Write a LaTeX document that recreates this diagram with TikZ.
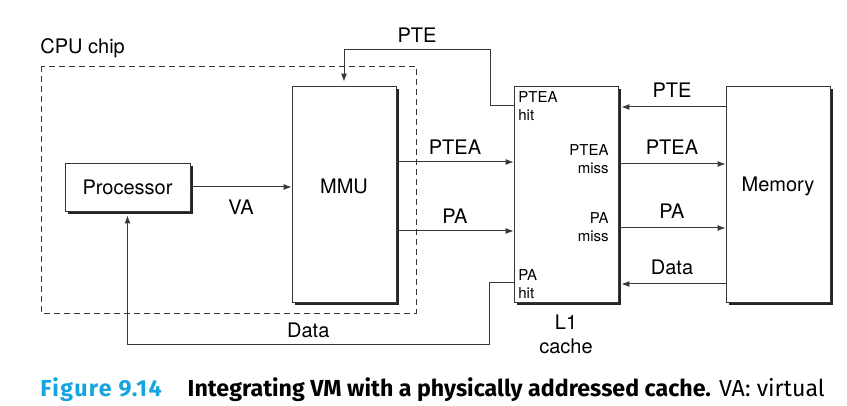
\documentclass[tikz,border=0pt]{standalone}
\usepackage{fontspec}
\setmainfont{TeX Gyre Heros}
\newfontfamily\capfont{Fira Sans}
\usetikzlibrary{arrows.meta,shadows}
\definecolor{figblue}{RGB}{20,165,225}
\definecolor{linegray}{RGB}{55,55,55}
\tikzset{
  box/.style={draw=linegray, line width=0.4pt, fill=white, inner sep=0pt,
    minimum width=52pt, minimum height=108pt,
    drop shadow={shadow xshift=1.5pt, shadow yshift=-1.5pt, fill=black!85, opacity=1}},
  arr/.style={draw=linegray, line width=0.5pt, -{Latex[length=4pt,width=3pt]}},
  small/.style={font=\fontsize{7.5}{9}\selectfont, inner sep=0pt},
}
\begin{document}
\begin{tikzpicture}[x=0.5pt,y=-0.5pt]
  \useasboundingbox (0,0) rectangle (847,406);
  % CPU chip
  \draw[linegray, line width=0.4pt, dash pattern=on 3pt off 2pt] (41,66) rectangle (416,313);
  \node[anchor=west, inner sep=0pt] (cpulbl) at (40,48) {CPU chip};
  \node[box, minimum width=62.5pt, minimum height=24pt] (proc) at (127.5,187) {Processor};
  \node[box] (mmu) at (344,194) {};
  \node (mmulbl) at (344,186) {MMU};
  % cache and memory
  \node[box] (l1) at (566,194) {};
  \node[box] (mem) at (778,194) {};
  \node (memlbl) at (778,186) {Memory};
  \node[align=center, inner sep=0pt] (l1lbl) at (566,334) {L1\\cache};
  \node[small, anchor=west, align=left] (pteahit) at (518,106) {PTEA\\hit};
  \node[small, anchor=east, align=right] (pteamiss) at (609,159) {PTEA\\miss};
  \node[small, anchor=east, align=right] (pamiss) at (609,227) {PA\\miss};
  \node[small, anchor=west, align=left] (pahit) at (518,284) {PA\\hit};
  % connectors
  \draw[arr] (proc.east) -- node[below=3pt] (valbl) {VA} (proc.east -| mmu.west);
  \draw[arr] (mmu.east |- 0,162) -- node[above] (ptealbl) {PTEA} (l1.west |- 0,162);
  \draw[arr] (mmu.east |- 0,231) -- node[above] (palbl) {PA} (l1.west |- 0,231);
  \draw[arr, shorten >=2pt] (l1.west |- 0,106) -- (490,106) -- (490,50)
    -- node[above] (ptelbl) {PTE} (mmu.north |- 0,50) -- (mmu.north);
  \draw[arr, shorten >=2pt] (l1.west |- 0,283) -- (489,283) -- (489,345)
    -- node[above] (datalbl) {Data} (proc.south |- 0,345) -- (proc.south);
  \draw[arr, shorten >=1.5pt] (mem.west |- 0,107) -- node[above=1pt] (mptelbl) {PTE} (l1.east |- 0,107);
  \draw[arr] (l1.east |- 0,164) -- node[above=1pt] (mptealbl) {PTEA} (mem.west |- 0,164);
  \draw[arr] (l1.east |- 0,228) -- node[above=1pt] (mpalbl) {PA} (mem.west |- 0,228);
  \draw[arr, shorten >=1.5pt] (mem.west |- 0,284) -- node[above=1pt] (mdatalbl) {Data} (l1.east |- 0,284);
  % caption
  \node[anchor=base west, inner sep=0pt, font=\capfont\fontsize{11.6}{13}\selectfont] (caption) at (40,397)
    {{\bfseries\addfontfeatures{LetterSpace=6}\color{figblue}Figure 9.14}\hspace{13pt}\textbf{Integrating VM with a physically addressed cache.} VA: virtual};
\end{tikzpicture}
\end{document}
